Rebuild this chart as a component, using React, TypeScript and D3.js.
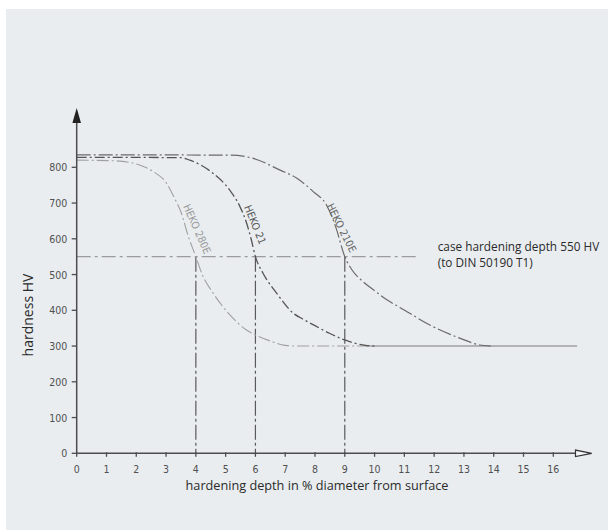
import React from "react";
import * as d3 from "d3";

const xTicks = d3.range(0, 17);
const yTicks = [0, 100, 200, 300, 400, 500, 600, 700, 800];

// [depth %, HV]
const heko210E: [number, number][] = [
  [0, 835], [5.15, 834], [5.93, 825], [6.83, 792], [7.38, 770], [7.94, 732], [8.39, 694],
  [8.7, 632], [9.0, 550], [9.25, 512], [9.6, 481], [10.0, 455], [10.4, 430], [10.85, 408],
  [11.97, 354], [12.86, 322], [13.53, 303], [13.9, 300],
];
const heko21: [number, number][] = [
  [0, 828], [3.5, 827], [3.8, 820], [4.58, 783], [5.14, 736], [5.48, 690], [5.7, 645],
  [5.86, 598], [6.0, 550], [6.26, 503], [6.71, 448], [7.27, 392], [7.6, 375], [8.0, 357],
  [8.5, 335], [9.0, 317], [9.7, 302], [10.0, 300],
];
const heko280E: [number, number][] = [
  [0, 820], [1.3, 818], [2.13, 806], [2.57, 788], [3.02, 755], [3.3, 711], [3.5, 675],
  [3.75, 606], [4.0, 550], [4.2, 503], [4.58, 448], [5.09, 392], [5.7, 345], [6.0, 331],
  [6.5, 314], [7.0, 302], [7.3, 300], [9.7, 300],
];
const baseLine: [number, number][] = [[9.7, 300], [16.8, 300]];
const caseDepthHV = 550;
const caseDepths = [4, 6, 9];
const refLineEnd = 11.47;

const curveLabels = [
  { text: "HEKO 280E", x: 4.05, y: 628, angle: 66, color: "#999" },
  { text: "HEKO 21", x: 6.0, y: 640, angle: 68, color: "#555" },
  { text: "HEKO 210E", x: 8.9, y: 631, angle: 63.5, color: "#666" },
];

const xLabel = "hardening depth in % diameter from surface";
const yLabel = "hardness HV";
const note1 = "case hardening depth 550 HV";
const note2 = "(to DIN 50190 T1)";

export default function App() {
  const x = d3.scaleLinear().domain([0, 16]).range([76.7, 553.3]);
  const y = d3.scaleLinear().domain([0, 800]).range([453.3, 167.3]);
  const line = d3
    .line<[number, number]>()
    .x((d) => x(d[0]))
    .y((d) => y(d[1]))
    .curve(d3.curveMonotoneX);
  const x0 = x(0);
  const y0 = y(0);
  const axisColor = "#4d4d4d";
  const tickFont = "'DejaVu Sans Condensed', 'DejaVu Sans', sans-serif";

  return (
    <svg
      width={608}
      height={531}
      style={{ position: "absolute", left: 0, top: 0, background: "#fff" }}
    >
      <rect x={6} y={9} width={602} height={521} fill="#e9edf0" />

      {/* reference line 550 HV */}
      <line
        x1={x0}
        x2={x(refLineEnd)}
        y1={y(caseDepthHV)}
        y2={y(caseDepthHV)}
        stroke="#9c9c9c"
        strokeWidth={1.2}
        strokeDasharray="14,4,3,4"
      />
      {caseDepths.map((d) => (
        <line
          key={d}
          x1={x(d)}
          x2={x(d)}
          y1={y(caseDepthHV)}
          y2={y0}
          stroke="#5a5a5a"
          strokeWidth={1.2}
          strokeDasharray="15,3,3,3"
        />
      ))}

      {/* curves */}
      <path d={line(baseLine) || ""} fill="none" stroke="#7a7a7a" strokeWidth={1.1} />
      <path d={line(heko280E) || ""} fill="none" stroke="#a0a0a0" strokeWidth={1.1} strokeDasharray="12,3,2,3" />
      <path d={line(heko21) || ""} fill="none" stroke="#555" strokeWidth={1.3} strokeDasharray="10,3,2,3" />
      <path d={line(heko210E) || ""} fill="none" stroke="#6a6a6a" strokeWidth={1.2} strokeDasharray="14,3,2,3" />

      {curveLabels.map((c) => (
        <text
          key={c.text}
          transform={`translate(${x(c.x)},${y(c.y)}) rotate(${c.angle})`}
          textAnchor="middle"
          dominantBaseline="central"
          fontFamily={tickFont}
          fontSize={10.5}
          fill={c.color}
        >
          {c.text}
        </text>
      ))}

      {/* axes */}
      <line x1={x0} x2={x0} y1={y0} y2={118} stroke={axisColor} strokeWidth={1.5} />
      <path d={`M${x0},108 L${x0 - 4.3},123 L${x0 + 4.3},123 Z`} fill="#222" />
      <line x1={x0} x2={576} y1={y0} y2={y0} stroke={axisColor} strokeWidth={1.5} />
      <path
        d={`M591.7,${y0} L575.5,${y0 - 3.2} L575.5,${y0 + 3.2} Z`}
        fill="#f4f6f8"
        stroke="#333"
        strokeWidth={1.2}
      />

      {xTicks.map((t) => (
        <g key={t}>
          <line x1={x(t)} x2={x(t)} y1={y0 - 1} y2={y0 + 3.5} stroke={axisColor} strokeWidth={1.3} />
          <text x={x(t)} y={472.5} textAnchor="middle" fontFamily={tickFont} fontSize={10.5} fill="#505050">
            {t}
          </text>
        </g>
      ))}
      {yTicks.map((t) => (
        <g key={t}>
          <line x1={x0 - 5} x2={x0} y1={y(t)} y2={y(t)} stroke={axisColor} strokeWidth={1.3} />
          <text
            x={x0 - 9.5}
            y={y(t)}
            textAnchor="end"
            dominantBaseline="central"
            fontFamily={tickFont}
            fontSize={10.5}
            fill="#505050"
          >
            {t}
          </text>
        </g>
      ))}

      <text x={317} y={490} textAnchor="middle" fontFamily="'Open Sans', sans-serif" fontSize={12.7} fill="#2a2a2a">
        {xLabel}
      </text>
      <text
        transform="translate(33,315) rotate(-90)"
        textAnchor="middle"
        fontFamily="'Open Sans', sans-serif"
        fontSize={14}
        fill="#2a2a2a"
      >
        {yLabel}
      </text>
      <text x={437.7} y={250.5} fontFamily="'Open Sans', sans-serif" fontSize={11.8} fill="#2a2a2a">
        {note1}
      </text>
      <text x={437.7} y={266.5} fontFamily="'Open Sans', sans-serif" fontSize={11.8} fill="#2a2a2a">
        {note2}
      </text>
    </svg>
  );
}
